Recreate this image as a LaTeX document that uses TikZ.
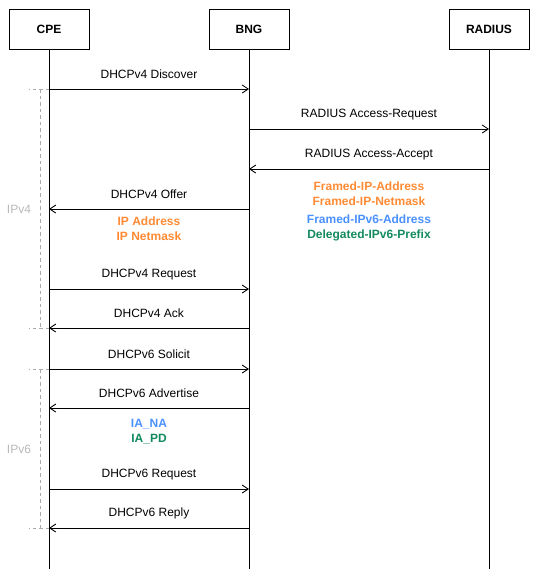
\documentclass[tikz,border=0pt]{standalone}
\usepackage{fontspec}
\setmainfont{Liberation Sans}
\usetikzlibrary{arrows.meta}
\definecolor{corange}{HTML}{FF8A33}
\definecolor{cblue}{HTML}{4A90FF}
\definecolor{cgreen}{HTML}{128A5E}
\definecolor{cgray}{HTML}{B8B8B8}
\definecolor{cdash}{HTML}{AAAAAA}
\begin{document}
\begin{tikzpicture}[x=1pt,y=-1pt,
  actor/.style={draw,line width=0.9pt,minimum width=80pt,minimum height=40pt,font=\fontsize{12}{14}\selectfont\bfseries,inner sep=0pt},
  life/.style={line width=0.9pt},
  msg/.style={line width=0.9pt,-{Straight Barb[length=6pt,width=8pt,line width=0.9pt]}},
  lbl/.style={font=\fontsize{12}{14}\selectfont,inner sep=0pt},
  attr/.style={font=\fontsize{12}{14}\selectfont\bfseries,inner sep=0pt},
  grp/.style={draw=cdash,dash pattern=on 3.5pt off 3pt,line width=0.7pt},
  grplbl/.style={font=\fontsize{12}{14}\selectfont,text=cgray,inner sep=0pt}]
\useasboundingbox (0,0) rectangle (539,576);
\node[actor] (cpe) at (49,29) {CPE};
\node[actor] (bng) at (249,29) {BNG};
\node[actor] (rad) at (489,29) {RADIUS};
\coordinate (cpeE) at (49,569);
\coordinate (bngE) at (249,569);
\coordinate (radE) at (489,569);
\draw[life] (cpe.south) -- (cpeE);
\draw[life] (bng.south) -- (bngE);
\draw[life] (rad.south) -- (radE);
% message endpoints
\foreach \n/\y in {1/89,2/129,3/169,4/209,5/289,6/328,7/369,8/408,9/489,10/528}{
  \coordinate (c\n) at (49,\y);
  \coordinate (b\n) at (249,\y);
  \coordinate (r\n) at (489,\y);
}
\draw[msg] (c1) -- (b1);
\node[lbl] (m1) at (149,74.5) {DHCPv4 Discover};
\draw[msg] (b2) -- (r2);
\node[lbl] (m2) at (369,114.5) {RADIUS Access-Request};
\draw[msg] (r3) -- (b3);
\node[lbl] (m3) at (369,154.5) {RADIUS Access-Accept};
\draw[msg] (b4) -- (c4);
\node[lbl] (m4) at (149,194.5) {DHCPv4 Offer};
\draw[msg] (c5) -- (b5);
\node[lbl] (m5) at (149,274.5) {DHCPv4 Request};
\draw[msg] (b6) -- (c6);
\node[lbl] (m6) at (149,313.5) {DHCPv4 Ack};
\draw[msg] (c7) -- (b7);
\node[lbl] (m7) at (149,354.5) {DHCPv6 Solicit};
\draw[msg] (b8) -- (c8);
\node[lbl] (m8) at (149,393.5) {DHCPv6 Advertise};
\draw[msg] (c9) -- (b9);
\node[lbl] (m9) at (149,474.5) {DHCPv6 Request};
\draw[msg] (b10) -- (c10);
\node[lbl] (m10) at (149,513.5) {DHCPv6 Reply};
% attributes
\node[attr,text=corange] (a1) at (369,186.5) {Framed-IP-Address};
\node[attr,text=corange] (a2) at (369,201.5) {Framed-IP-Netmask};
\node[attr,text=cblue] (a3) at (369,219.5) {Framed-IPv6-Address};
\node[attr,text=cgreen] (a4) at (369,235) {Delegated-IPv6-Prefix};
\node[attr,text=corange] (a5) at (149,221.5) {IP Address};
\node[attr,text=corange] (a6) at (149,236.5) {IP Netmask};
\node[attr,text=cblue] (a7) at (149,424.5) {IA\_NA};
\node[attr,text=cgreen] (a8) at (149,439.5) {IA\_PD};
% groups
\coordinate (g4a) at (29,89);
\coordinate (g4b) at (29,328);
\draw[grp] (c1) -- (g4a);
\draw[grp] (c6) -- (g4b);
\coordinate (g4t) at (40,89);
\coordinate (g4u) at (40,328);
\draw[grp] (g4t) -- (g4u);
\node[grplbl] (ipv4) at (19,209) {IPv4};
\coordinate (g6a) at (29,369);
\coordinate (g6b) at (29,528);
\draw[grp] (c7) -- (g6a);
\draw[grp] (c10) -- (g6b);
\coordinate (g6t) at (40,369);
\coordinate (g6u) at (40,528);
\draw[grp] (g6t) -- (g6u);
\node[grplbl] (ipv6) at (19,449) {IPv6};
\end{tikzpicture}
\end{document}
